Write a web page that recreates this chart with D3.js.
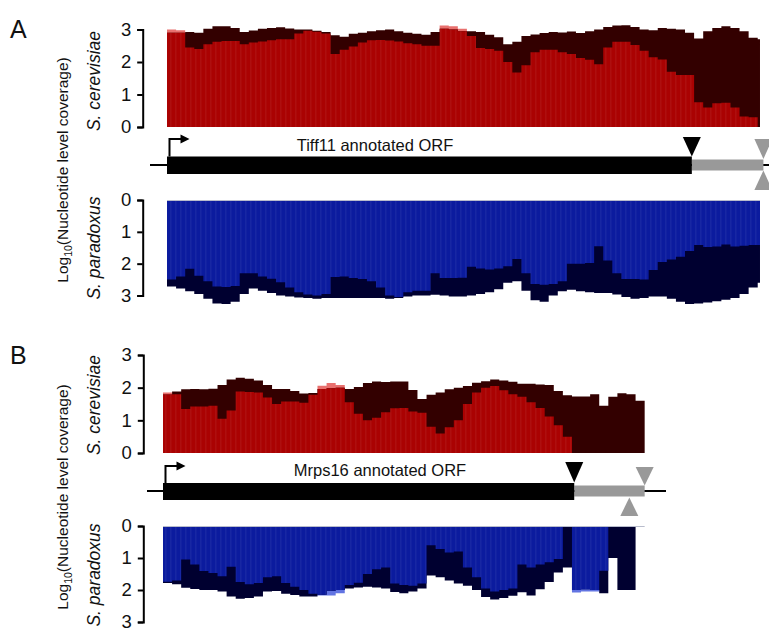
<!DOCTYPE html>
<html><head><meta charset="utf-8">
<script src="https://cdn.jsdelivr.net/npm/d3@7"></script>
<style>body{margin:0;background:#fff}svg{display:block}text{font-family:"Liberation Sans",Arial,sans-serif}</style>
</head><body><svg id="c" width="769" height="630"></svg>
<script>
// ---- data: log10 nucleotide-level coverage, 8-nt bins from the ATG ----
const binNt = 8;
const tickValues = [0, 1, 2, 3];
const geneNames = ["Tiff11 annotated ORF", "Mrps16 annotated ORF"];
const panelLetters = ["A", "B"];
const speciesNames = ["S. cerevisiae", "S. paradoxus"];

// Panel A (Tiff11)
const aCerS1 = [3.0,2.98,2.45,2.4,2.55,2.62,2.65,2.65,2.55,2.6,2.63,2.67,2.7,2.7,2.88,2.96,2.93,2.88,2.25,2.38,2.48,2.6,2.67,2.68,2.66,2.63,2.58,2.55,2.5,2.5,3.12,3.1,3.02,2.8,2.43,2.4,2.35,2.0,1.68,1.9,2.3,2.38,2.38,2.3,2.25,2.12,2.07,1.93,2.45,2.62,2.62,2.52,2.35,2.15,2.08,1.7,1.6,1.6,0.76,0.6,0.73,0.75,0.6,0.32,0.3,0];
const aCerS2 = [2.9,2.9,2.92,2.9,3.02,3.1,3.1,3.05,2.92,2.97,3.02,3.05,3.07,3.03,3.0,3.0,2.96,2.92,2.82,2.78,2.87,2.9,2.95,2.98,3.0,2.95,2.9,2.87,2.84,2.92,3.02,3.0,2.95,2.95,2.92,2.84,2.76,2.55,2.62,2.8,2.85,2.89,2.92,2.91,2.94,2.89,2.95,3.0,3.08,3.12,3.13,3.08,3.0,2.98,3.05,3.02,3.0,2.9,2.72,2.95,3.05,3.1,3.05,2.95,2.75,2.7];
const aParS1 = [2.5,2.4,2.16,2.38,2.55,2.72,2.73,2.7,2.3,2.3,2.4,2.47,2.58,2.75,2.9,2.97,3.0,2.95,2.42,2.4,2.45,2.48,2.55,2.75,3.0,3.05,2.9,2.85,2.85,2.3,2.45,2.45,2.44,2.1,2.15,2.18,2.15,2.08,1.85,2.3,2.64,2.66,2.64,2.55,2.0,2.0,1.98,1.45,1.9,2.3,2.48,2.48,2.5,2.2,1.95,1.87,1.78,1.6,1.41,1.48,1.46,1.4,1.46,1.44,1.41,1.41];
const aParS2 = [2.72,2.78,2.87,2.95,3.1,3.25,3.27,3.2,2.95,2.78,2.85,2.92,3.0,3.03,3.06,3.08,3.1,3.08,3.08,3.08,3.08,3.08,3.08,3.08,3.1,3.08,3.03,3.0,3.0,2.98,3.0,3.03,3.03,3.0,2.95,2.9,2.8,2.6,2.55,2.85,3.15,3.2,3.0,2.87,2.82,2.87,2.9,2.92,2.92,2.97,3.05,3.1,3.08,3.03,3.03,3.1,3.2,3.27,3.25,3.22,3.18,3.13,3.08,2.95,2.75,2.6];

// Panel B (Mrps16)
const bCerS1 = [1.85,1.8,1.35,1.42,1.42,1.45,1.05,1.3,1.88,1.87,1.85,1.7,1.5,1.58,1.58,1.54,1.78,2.06,2.14,2.08,1.55,1.2,1.0,1.08,1.25,1.37,1.38,1.27,1.23,0.8,0.6,0.79,1.0,1.5,1.85,2.0,2.05,1.92,1.8,1.72,1.55,1.38,1.12,0.85,0.5,0,0,0,0,0,0,0,0];
const bCerS2 = [1.79,1.88,1.95,1.96,1.95,1.97,2.08,2.25,2.3,2.27,2.22,2.08,1.96,1.96,1.9,1.82,1.84,1.96,1.98,2.0,1.96,2.02,2.14,2.19,2.17,2.19,2.19,1.93,1.65,1.78,1.85,1.95,2.0,2.05,2.15,2.2,2.25,2.22,2.18,2.12,2.12,2.1,2.08,1.9,1.77,1.73,1.73,1.8,1.45,1.72,1.83,1.8,1.6];
const bParS1 = [1.74,1.7,1.05,1.2,1.41,1.47,1.57,1.27,1.75,1.82,1.78,1.6,1.57,1.78,1.9,2.0,2.12,2.17,2.17,2.1,1.84,1.77,1.5,1.35,1.3,1.8,1.84,1.87,1.8,0.6,0.72,0.83,0.8,1.3,1.6,1.95,2.05,2.0,1.95,1.2,1.3,1.2,1.13,1.03,0,2.08,2.05,2.05,1.4,0,0,0,0];
const bParS2 = [1.78,1.82,1.93,1.97,2.0,2.0,2.05,2.2,2.27,2.25,2.2,2.05,2.03,2.12,2.16,2.2,2.2,2.15,2.02,2.0,1.95,1.92,1.9,1.92,1.95,2.06,2.1,2.05,1.95,1.55,1.6,1.7,1.8,1.87,2.0,2.22,2.3,2.25,2.18,2.07,2.17,1.98,1.75,1.45,1.3,2.0,1.98,2.0,2.1,1.0,2.0,2.0,0];

// gene models (nt)
const orfLengths = [462, 362];
const regionLengths = [522, 424];

// ---- layout ----
const pxPerNt = 1.136;
const colors = {red:"#aa0202", darkRed:"#330000", pink:"#e8706e", blue:"#0b1b9e", navy:"#000030", lightBlue:"#6274e2"};
const panels = [
  {letter:panelLetters[0], letterY:38, x0:167, axisX:142.7, len:regionLengths[0], orf:orfLengths[0], utrEnd:525, upTri:525,
   lineX:[150,769], top:{y0:127,y3:29.5,s1:aCerS1,s2:aCerS2}, bot:{y0:200,y3:295.5,s1:aParS1,s2:aParS2},
   g:{lineY:165, barTop:156.5, barH:17.5, grayTop:159.5, grayH:11, arrowTop:139, triTop:137, triBot:156.5, gdTop:139, gdBot:159, guTop:170.5, guBot:190, textX:375, textY:151},
   cerY:81, parY:248, logY:170, name:geneNames[0]},
  {letter:panelLetters[1], letterY:364, x0:163, axisX:143.3, len:regionLengths[1], orf:orfLengths[1], utrEnd:424, upTri:410.5,
   lineX:[147,666], top:{y0:453,y3:355,s1:bCerS1,s2:bCerS2}, bot:{y0:526,y3:622,s1:bParS1,s2:bParS2},
   g:{lineY:491, barTop:483, barH:17, grayTop:485.5, grayH:11, arrowTop:466, triTop:462, triBot:482.5, gdTop:467, gdBot:485.5, guTop:497.5, guBot:516, textX:380, textY:476},
   cerY:405, parY:575, logY:497, name:geneNames[1]}
];

const svg = d3.select("#c");
const defs = svg.append("defs");
const pat = defs.append("pattern").attr("id", "stripes").attr("patternUnits", "userSpaceOnUse")
  .attr("width", 5).attr("height", 10);
pat.append("rect").attr("x", 0).attr("y", 0).attr("width", 1.5).attr("height", 10).attr("fill", "#fff").attr("opacity", 0.05);
let clipId = 0;

function drawCoverage(p, x, spec, colMain, colDark, colLight, inverted){
  const y = d3.scaleLinear().domain([0,3]).range([spec.y0, spec.y3]);
  const toPts = arr => {
    const pts = arr.map((v,i)=>({pos:Math.min(i*binNt, p.len), v}));
    pts.push({pos:p.len, v:arr[arr.length-1]});
    return pts;
  };
  const area = d3.area().curve(d3.curveStepAfter).x(d=>x(d.pos)).y0(y(0)).y1(d=>y(d.v));
  const s1 = toPts(spec.s1), s2 = toPts(spec.s2);
  const g = svg.append("g");
  g.append("path").attr("d", area(s1)).attr("fill", colLight);
  g.append("path").attr("d", area(s2)).attr("fill", colDark);
  const id = "clip" + (clipId++);
  defs.append("clipPath").attr("id", id).append("path").attr("d", area(s2));
  g.append("path").attr("d", area(s1)).attr("fill", colMain).attr("clip-path", `url(#${id})`);
  g.append("path").attr("d", area(s1)).attr("fill", "url(#stripes)").attr("clip-path", `url(#${id})`);
  if (inverted) {
    g.append("line").attr("x1", x(0)).attr("x2", x(p.len)).attr("y1", y(0)+0.5).attr("y2", y(0)+0.5)
      .attr("stroke", "#b8bccc").attr("stroke-width", 1.2);
  }
  // axis
  const ax = svg.append("g").attr("transform", `translate(${p.axisX},0)`)
    .call(d3.axisLeft(y).tickValues(tickValues).tickSize(5.5).tickSizeOuter(5.5).tickPadding(6).tickFormat(d3.format("d")));
  ax.select(".domain").attr("stroke", "#000").attr("stroke-width", 2);
  ax.selectAll(".tick line").attr("stroke", "#000").attr("stroke-width", 2);
  ax.selectAll(".tick text").attr("font-size", 18.5).attr("fill", "#111").attr("font-family", "'Liberation Sans',Arial,sans-serif");
}

panels.forEach(p => {
  const x = d3.scaleLinear().domain([0, p.len]).range([p.x0, p.x0 + p.len * pxPerNt]);
  drawCoverage(p, x, p.top, colors.red, colors.darkRed, colors.pink, false);
  drawCoverage(p, x, p.bot, colors.blue, colors.navy, colors.lightBlue, true);

  // gene model
  const g = svg.append("g");
  const G = p.g;
  g.append("line").attr("x1", p.lineX[0]).attr("x2", p.lineX[1]).attr("y1", G.lineY).attr("y2", G.lineY)
    .attr("stroke", "#000").attr("stroke-width", 2);
  g.append("rect").attr("x", x(p.orf)).attr("y", G.grayTop).attr("width", x(p.utrEnd) - x(p.orf)).attr("height", G.grayH).attr("fill", "#999");
  g.append("rect").attr("x", x(0)).attr("y", G.barTop).attr("width", x(p.orf) - x(0)).attr("height", G.barH).attr("fill", "#000");
  const ax0 = x(0) + 2.5;
  g.append("path").attr("d", `M${ax0},${G.barTop} V${G.arrowTop} H${ax0 + 12}`).attr("fill", "none").attr("stroke", "#000").attr("stroke-width", 2);
  g.append("path").attr("d", `M${ax0 + 11},${G.arrowTop - 4.5} L${ax0 + 20},${G.arrowTop} L${ax0 + 11},${G.arrowTop + 4.5} Z`).attr("fill", "#000");
  const tri = (cx, yA, yB, w, col) => g.append("path")
    .attr("d", `M${cx - w/2},${yA} L${cx + w/2},${yA} L${cx},${yB} Z`).attr("fill", col);
  tri(x(p.orf), G.triTop, G.triBot, 18, "#000");
  tri(x(p.utrEnd), G.gdTop, G.gdBot, 18, "#999");
  tri(x(p.upTri), G.guBot, G.guTop, 18, "#999");
  g.append("text").attr("x", G.textX).attr("y", G.textY).attr("text-anchor", "middle").attr("font-size", 16.5).attr("fill", "#111").text(p.name);

  // labels
  svg.append("text").attr("x", 10).attr("y", p.letterY).attr("font-size", 25).attr("fill", "#111").text(p.letter);
  const rot = (xx, yy, txt, size, italic) => svg.append("text")
    .attr("transform", `translate(${xx},${yy}) rotate(-90)`).attr("text-anchor", "middle")
    .attr("font-size", size).attr("font-style", italic ? "italic" : "normal").attr("fill", "#111").text(txt);
  rot(100, p.cerY, speciesNames[0], 17.5, true);
  rot(100, p.parY, speciesNames[1], 17.5, true);
  const lt = svg.append("text").attr("transform", `translate(68,${p.logY}) rotate(-90)`).attr("text-anchor", "middle")
    .attr("font-size", 15.5).attr("fill", "#111");
  lt.append("tspan").text("Log");
  lt.append("tspan").attr("font-size", 10.5).attr("dy", 4).text("10");
  lt.append("tspan").attr("dy", -4).text("(Nucleotide level coverage)");
});
</script></body></html>
